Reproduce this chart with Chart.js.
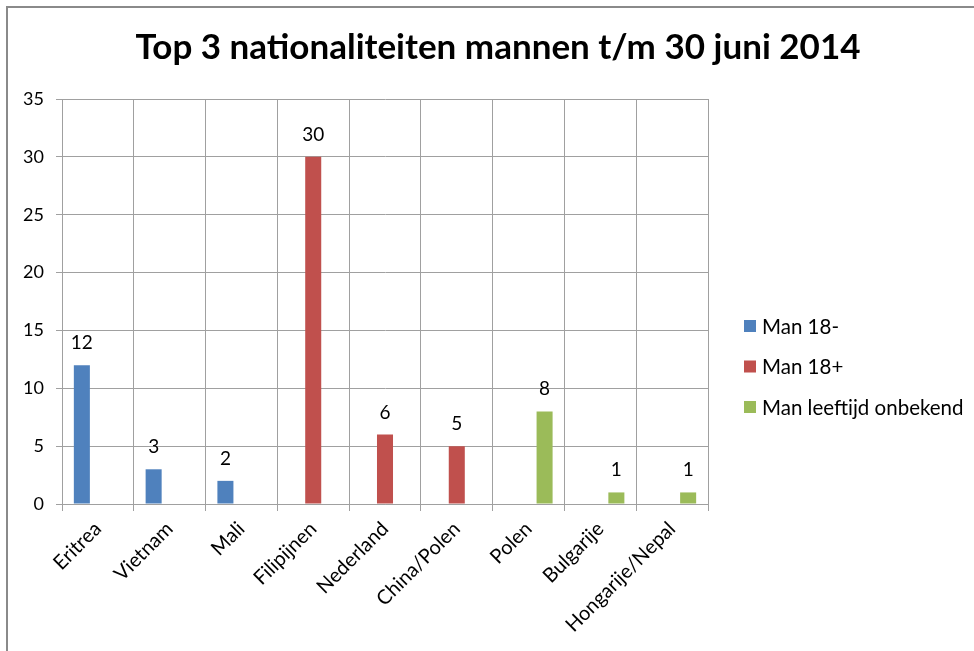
<!DOCTYPE html>
<html>
<head>
<meta charset="utf-8">
<script src="https://cdn.jsdelivr.net/npm/chart.js@4"></script>
<style>
  html, body { margin: 0; padding: 0; background: #fff; overflow: hidden; }
  #frame { position: absolute; left: 6px; top: 6px; width: 1000px; height: 700px; border: 2px solid #8a8a8a; box-sizing: border-box; }
  #wrap { position: absolute; left: 0; top: 0; width: 974px; height: 651px; }
</style>
</head>
<body>
<div id="frame"></div>
<div id="wrap"><canvas id="c" width="974" height="651"></canvas></div>
<script>
const chartTitle = 'Top 3 nationaliteiten mannen t/m 30 juni 2014';
const categories = ['Eritrea', 'Vietnam', 'Mali', 'Filipijnen', 'Nederland', 'China/Polen', 'Polen', 'Bulgarije', 'Hongarije/Nepal'];
const seriesNames = ['Man 18-', 'Man 18+', 'Man leeftijd onbekend'];
const man18min = [12, 3, 2, null, null, null, null, null, null];
const man18plus = [null, null, null, 30, 6, 5, null, null, null];
const manOnbekend = [null, null, null, null, null, null, 8, 1, 1];
const seriesColors = ['#4F81BD', '#C0504D', '#9BBB59'];
const yTicks = [0, 5, 10, 15, 20, 25, 30, 35];

const FONT = 'Lato, "Open Sans", sans-serif';

const topTitle = {
  id: 'topTitle',
  afterDraw(chart) {
    const ctx = chart.ctx;
    ctx.save();
    ctx.font = 'bold 35px ' + FONT;
    ctx.fillStyle = '#000';
    ctx.textAlign = 'center';
    ctx.textBaseline = 'middle';
    ctx.fillText(chartTitle, 498, 48);
    ctx.restore();
  }
};

const valueLabels = {
  id: 'valueLabels',
  afterDatasetsDraw(chart) {
    const ctx = chart.ctx;
    ctx.save();
    ctx.font = '19px ' + FONT;
    ctx.fillStyle = '#000';
    ctx.textAlign = 'center';
    ctx.textBaseline = 'alphabetic';
    chart.data.datasets.forEach((ds, i) => {
      const meta = chart.getDatasetMeta(i);
      meta.data.forEach((el, j) => {
        const v = ds.data[j];
        if (v === null || v === undefined) return;
        ctx.fillText(String(v), el.x, el.y - 16);
      });
    });
    ctx.restore();
  }
};

const sideLegend = {
  id: 'sideLegend',
  afterDraw(chart) {
    const ctx = chart.ctx;
    ctx.save();
    ctx.font = '20.5px ' + FONT;
    ctx.textBaseline = 'middle';
    ctx.textAlign = 'left';
    chart.data.datasets.forEach((ds, i) => {
      const y = 326 + i * 40.5;
      ctx.fillStyle = ds.backgroundColor;
      ctx.fillRect(744, y - 6, 12, 12);
      ctx.fillStyle = '#000';
      ctx.fillText(ds.label, 762, y + 1);
    });
    ctx.restore();
  }
};

const datasets = [man18min, man18plus, manOnbekend].map((d, i) => ({
  label: seriesNames[i],
  data: d,
  backgroundColor: seriesColors[i],
  borderWidth: 0,
  categoryPercentage: 0.67,
  barPercentage: 1.0,
  skipNull: false
}));

new Chart(document.getElementById('c'), {
  type: 'bar',
  data: { labels: categories, datasets },
  options: {
    responsive: false,
    animation: false,
    devicePixelRatio: 1,
    layout: { padding: { left: 0, right: 266, top: 99, bottom: 0 } },
    plugins: {
      legend: { display: false },
      tooltip: { enabled: false },
      title: { display: false }
    },
    scales: {
      x: {
        grid: { color: '#a0a0a0', lineWidth: 1, offset: true, tickLength: 7, drawTicks: true },
        border: { color: '#a0a0a0', width: 1 },
        ticks: {
          color: '#000',
          font: { family: FONT, size: 20 },
          maxRotation: 45, minRotation: 45,
          padding: 6,
          autoSkip: false
        },
        afterFit(s) { s.height = 147; }
      },
      y: {
        min: 0, max: 35,
        afterBuildTicks(s) { s.ticks = yTicks.map(v => ({ value: v })); },
        grid: { color: '#a0a0a0', lineWidth: 1, tickLength: 6 },
        border: { color: '#a0a0a0', width: 1 },
        ticks: {
          color: '#000',
          font: { family: FONT, size: 18 },
          padding: 12
        },
        afterFit(s) { s.width = 62; }
      }
    }
  },
  plugins: [valueLabels, sideLegend, topTitle]
});
</script>
</body>
</html>
